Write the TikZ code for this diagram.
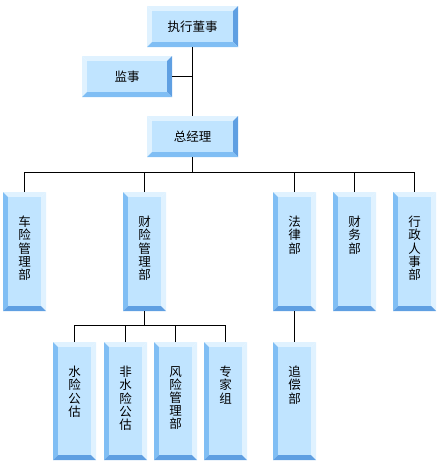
\documentclass[tikz,border=0pt]{standalone}
\usepackage{fontspec}
\newfontfamily\cjk{Noto Sans CJK SC}
\definecolor{facec}{HTML}{C0E4FF}
\definecolor{bevlight}{HTML}{E0F2FF}
\definecolor{bevmed}{HTML}{80BEF4}
\definecolor{bevdark}{HTML}{5F9FE2}
\tikzset{
  boxn/.style={rectangle, inner sep=0pt, outer sep=0pt},
  htext/.style={font=\cjk\fontsize{12.5}{13}\selectfont, inner sep=0pt},
  vtext/.style={font=\cjk\fontsize{12.5}{13.2}\selectfont, inner sep=0pt, align=center, anchor=north},
  conn/.style={draw=black, line width=1pt}
}
% name, x1, y1, x2, y2, top, left, right, bottom
\newcommand\bevbox[9]{%
  \fill[#6] (#2,#3) -- (#4,#3) -- ({#4-5},{#3+5}) -- ({#2+5},{#3+5}) -- cycle;
  \fill[#7] (#2,#3) -- ({#2+5},{#3+5}) -- ({#2+5},{#5-5}) -- (#2,#5) -- cycle;
  \fill[#8] (#4,#3) -- ({#4-5},{#3+5}) -- ({#4-5},{#5-5}) -- (#4,#5) -- cycle;
  \fill[#9] (#2,#5) -- ({#2+5},{#5-5}) -- ({#4-5},{#5-5}) -- (#4,#5) -- cycle;
  \fill[facec] ({#2+5},{#3+5}) rectangle ({#4-5},{#5-5});
  \node[boxn, minimum width={#4-#2}, minimum height={#5-#3}] (#1) at ({(#2+#4)/2},{(#3+#5)/2}) {};
}
\newcommand\hbev[5]{\bevbox{#1}{#2}{#3}{#4}{#5}{bevlight}{bevlight}{bevdark}{bevmed}}
\newcommand\vbev[5]{\bevbox{#1}{#2}{#3}{#4}{#5}{bevlight}{bevmed}{bevlight}{bevdark}}
\begin{document}
\begin{tikzpicture}[x=1pt, y=-1pt]
\useasboundingbox (0,0) rectangle (442,466);
% boxes
\hbev{exec}{147}{6}{238}{47}
\hbev{jianshi}{82}{56}{172}{97}
\hbev{zjl}{147}{116}{238}{157}
\vbev{chexian}{3}{192}{46}{311}
\vbev{caixian}{123}{192}{166}{311}
\vbev{falv}{273}{192}{316}{311}
\vbev{caiwu}{333}{192}{376}{311}
\vbev{xingzheng}{393}{192}{436}{311}
\vbev{shuixian}{53}{342}{96}{460}
\vbev{feishui}{104}{342}{147}{460}
\vbev{fengxian}{154}{342}{197}{460}
\vbev{zhuanjia}{204}{342}{247}{460}
\vbev{zhuichang}{273}{342}{316}{460}
% texts
\node[htext] (t-exec) at (exec) {执行董事};
\node[htext] (t-jianshi) at (jianshi) {监事};
\node[htext] (t-zjl) at (zjl) {总经理};
\node[vtext] (t-chexian) at ([yshift=-24pt]chexian.north) {车\\险\\管\\理\\部};
\node[vtext] (t-caixian) at ([yshift=-24pt]caixian.north) {财\\险\\管\\理\\部};
\node[vtext] (t-falv) at ([yshift=-24pt]falv.north) {法\\律\\部};
\node[vtext] (t-caiwu) at ([yshift=-24pt]caiwu.north) {财\\务\\部};
\node[vtext] (t-xingzheng) at ([yshift=-24pt]xingzheng.north) {行\\政\\人\\事\\部};
\node[vtext] (t-shuixian) at ([yshift=-24pt]shuixian.north) {水\\险\\公\\估};
\node[vtext] (t-feishui) at ([yshift=-24pt]feishui.north) {非\\水\\险\\公\\估};
\node[vtext] (t-fengxian) at ([yshift=-24pt]fengxian.north) {风\\险\\管\\理\\部};
\node[vtext] (t-zhuanjia) at ([yshift=-24pt]zhuanjia.north) {专\\家\\组};
\node[vtext] (t-zhuichang) at ([yshift=-24pt]zhuichang.north) {追\\偿\\部};
% connectors
\coordinate (bus1) at (0,172);
\coordinate (bus2) at (0,325);
\draw[conn] (exec.south) -- (zjl.north);
\draw[conn] (jianshi.east) -- (jianshi.east -| exec.south);
\draw[conn] (zjl.south) -- (zjl.south |- bus1);
\draw[conn] (chexian.north) |- (xingzheng.north |- bus1) -- (xingzheng.north);
\draw[conn] (caixian.north) -- (caixian.north |- bus1);
\draw[conn] (falv.north) -- (falv.north |- bus1);
\draw[conn] (caiwu.north) -- (caiwu.north |- bus1);
\draw[conn] (caixian.south) -- (caixian.south |- bus2);
\draw[conn] (shuixian.north) |- (zhuanjia.north |- bus2) -- (zhuanjia.north);
\draw[conn] (feishui.north) -- (feishui.north |- bus2);
\draw[conn] (fengxian.north) -- (fengxian.north |- bus2);
\draw[conn] (falv.south) -- (zhuichang.north);
\end{tikzpicture}
\end{document}
